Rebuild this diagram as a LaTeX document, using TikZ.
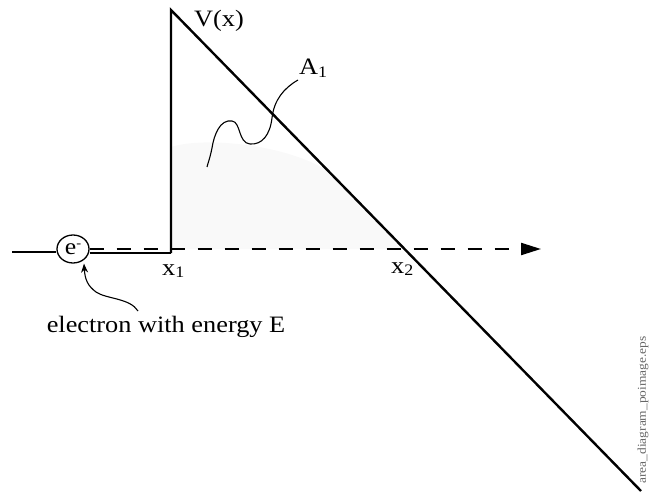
\documentclass[tikz,border=0pt]{standalone}
\usepackage{fontspec}
\setmainfont[FakeStretch=1.12]{Liberation Serif}
\usetikzlibrary{arrows.meta,shapes.geometric}
\newcommand{\mysub}[1]{\raisebox{-2.5pt}{\fontsize{16}{16}\selectfont #1}}
\tikzset{
  solidline/.style={line width=2.2pt},
  diagline/.style={line width=2.4pt},
  dashline/.style={line width=2.2pt, dash pattern=on 14pt off 13pt},
  thinline/.style={line width=1.1pt},
  lbl/.style={inner sep=0pt, font=\fontsize{23.5}{27}\selectfont},
}
\begin{document}
\begin{tikzpicture}[x=1pt,y=-1pt]
\useasboundingbox (0,0) rectangle (654,495);
% key points
\coordinate (L) at (12,252);
\coordinate (X1) at (171,253);
\coordinate (T) at (171,10);
\coordinate (B) at (641,491);
\coordinate (X2) at (404,249);
\coordinate (R) at (541,249);
\coordinate (S1) at (171,147);
\coordinate (S2) at (329,172);
% shaded area
\fill[gray!5] (X1 |- X2) -- (S1) .. controls (205,136) and (290,145) .. (S2) -- (X2) -- cycle;
% electron
\node[ellipse, draw, line width=1.3pt, minimum width=32pt, minimum height=28pt, inner sep=0pt,
      font=\fontsize{23}{24}\selectfont] (e) at (73,249) {e\raisebox{7pt}{\fontsize{13}{13}\selectfont -}};
% lines
\draw[solidline] (L) -- (L -| e.west);
\draw[solidline] (e.east |- X1) -- (X1);
\draw[diagline, line join=miter] (X1) -- (T) -- (B);
\draw[dashline, -{Triangle[length=20pt,width=12pt]}] (e.east) -- (R);
% labels
\node[lbl, anchor=base west] (vx) at (194,27) {V(x)};
\node[lbl, anchor=base west] (a1) at (299,75) {A\mysub{1}};
\node[lbl, anchor=base west] (x1l) at (162,275) {x\mysub{1}};
\node[lbl, anchor=base west] (x2l) at (391,273) {x\mysub{2}};
\node[lbl, anchor=base] (etext) at (166,332) {electron with energy E};
\node[rotate=90, inner sep=0pt, text=black!60, font=\fontsize{12}{12}\selectfont] (fname) at (643,410) {area\_diagram\_poimage.eps};
% squiggle from A1
\coordinate (Q0) at (298,80);
\coordinate (Q1) at (207,167);
\draw[thinline] (Q0) .. controls (284,88) and (274,100) .. (272,118)
  .. controls (270,135) and (262,145) .. (250,144)
  .. controls (238,143) and (241,122) .. (232,121)
  .. controls (220,119) and (214,135) .. (212,148)
  .. controls (210,158) and (208,163) .. (Q1);
% arrow to electron
\coordinate (P0) at (138,311);
\draw[thinline, -{Stealth[length=9pt,width=7pt]}] (P0) .. controls (130,298) and (106,299) .. (96,292)
  .. controls (88,286) and (85,280) .. (e.south -| 84,262);
\end{tikzpicture}
\end{document}
